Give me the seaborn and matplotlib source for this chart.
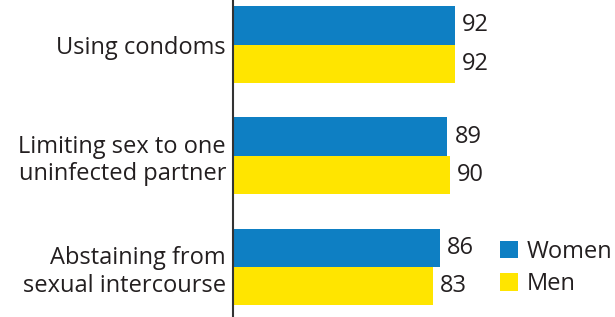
import pandas as pd
import seaborn as sns
import matplotlib.pyplot as plt

# ---------- data ----------
methods = ["Using condoms",
           "Limiting sex to one\nuninfected partner",
           "Abstaining from\nsexual intercourse"]
women = [92, 89, 86]
men = [92, 90, 83]
groups = ["Women", "Men"]
colors = ["#0E7FC3", "#FFE500"]
text_color = "#231F20"

df = pd.DataFrame({
    "method": methods * 2,
    "percent": women + men,
    "sex": ["Women"] * len(women) + ["Men"] * len(men),
})

# ---------- plot ----------
sns.set_style("white")
plt.rcParams["font.family"] = ["Open Sans", "DejaVu Sans"]

fig = plt.figure(figsize=(6.15, 3.17), dpi=100)
ax = fig.add_axes([233 / 615, 0, 1 - 233 / 615, 1])

sns.barplot(data=df, y="method", x="percent", hue="sex", hue_order=groups,
            palette=colors, orient="h", width=0.69, saturation=1,
            linewidth=0, ax=ax, legend=False)

for c in ax.containers:
    ax.bar_label(c, fmt="%d", padding=5, fontsize=17, color=text_color)

ax.set_xlim(0, 158.5)
ax.set_ylim(2.449, -0.4)
ax.set_xlabel("")
ax.set_ylabel("")
ax.set_xticks([])
ax.tick_params(axis="y", length=0, pad=5, labelsize=17, labelcolor=text_color)
for lbl in ax.get_yticklabels():
    lbl.set_linespacing(1.2)

sns.despine(ax=ax, left=False, bottom=True)
ax.spines["left"].set_color("#333333")
ax.spines["left"].set_linewidth(1.5)

handles = [plt.Rectangle((0, 0), 1, 1, color=c, linewidth=0) for c in colors]
fig.legend(handles, groups, loc="upper left",
           bbox_to_anchor=(500 / 615, 1 - 240 / 317),
           frameon=False, fontsize=17, handlelength=0.75, handleheight=0.75,
           handletextpad=0.4, labelspacing=0.35, borderpad=0, borderaxespad=0,
           labelcolor=text_color)

fig.savefig("out.png", dpi=100)
